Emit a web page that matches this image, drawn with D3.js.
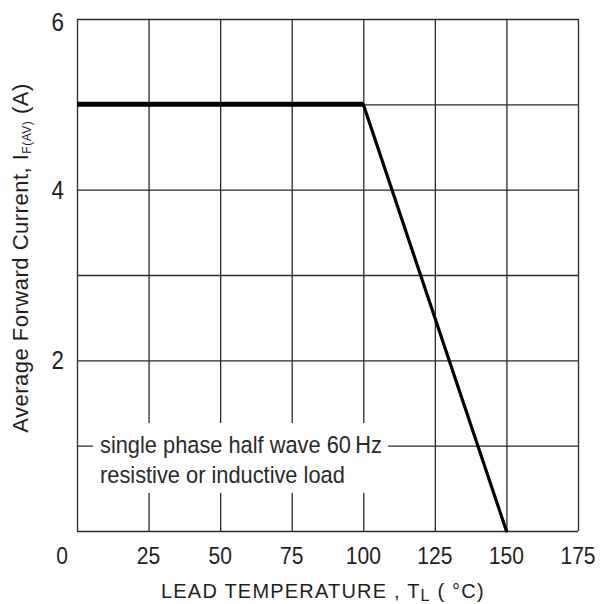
<!DOCTYPE html>
<html><head><meta charset="utf-8">
<script src="https://cdn.jsdelivr.net/npm/d3@7"></script>
<style>
body{margin:0;background:#fff;}
text{fill:#1e1e1e;}
</style></head>
<body><svg id="c" width="601" height="604"></svg>
<script>
const xTicks = [0, 25, 50, 75, 100, 125, 150, 175];
const yGrid = [0, 1, 2, 3, 4, 5, 6];
const yTickLabels = [2, 4, 6];
const temperature = [0, 100, 150];
const current = [5, 5, 0];
const noteLines = ["single phase half wave 60\u2009Hz", "resistive or inductive load"];

const svg = d3.select("#c");
const sans = "'Liberation Sans',Arial,sans-serif";
const x = d3.scaleLinear().domain([0, 175]).range([77, 578]);
const y = d3.scaleLinear().domain([0, 6]).range([531, 19]);

// grid
const gv = d3.axisBottom(x).tickValues(xTicks).tickSize(-(y(0) - y(6))).tickFormat("");
const gh = d3.axisLeft(y).tickValues(yGrid).tickSize(-(x(175) - x(0))).tickFormat("");
const g1 = svg.append("g").attr("transform", `translate(0,${y(0)})`).call(gv);
const g2 = svg.append("g").attr("transform", `translate(${x(0)},0)`).call(gh);
[g1, g2].forEach(g => {
  g.select(".domain").remove();
  g.selectAll("line").attr("stroke", "#2a2a2a").attr("stroke-width", 1.3);
});

// note background
svg.append("rect").attr("x", 93).attr("y", 423).attr("width", 295).attr("height", 70).attr("fill", "#fff");
svg.selectAll("text.note").data(noteLines).enter().append("text")
  .attr("transform", (d, i) => `translate(100,${453 + i * 30}) scale(0.89,1)`)
  .style("font-family", sans).style("font-size", "24.5px").style("fill", "#2a2a2a")
  .text(d => d);

// data
const pts = temperature.map((t, i) => [x(t), y(current[i])]);
svg.append("line").attr("x1", pts[0][0]).attr("y1", pts[0][1]).attr("x2", pts[1][0]).attr("y2", pts[1][1])
  .attr("stroke", "#000").attr("stroke-width", 5);
svg.append("line").attr("x1", pts[1][0]).attr("y1", pts[1][1]).attr("x2", pts[2][0]).attr("y2", pts[2][1])
  .attr("stroke", "#000").attr("stroke-width", 3.2).attr("stroke-linecap", "round");

// tick labels
svg.selectAll("text.xt").data(xTicks).enter().append("text")
  .attr("transform", d => `translate(${d === 0 ? 62 : x(d)},564) scale(0.86,1)`).attr("text-anchor", "middle")
  .style("font-family", sans).style("font-size", "24.5px").text(d => d);
svg.selectAll("text.yt").data(yTickLabels).enter().append("text")
  .attr("transform", d => `translate(64,${d === 6 ? 31 : y(d) + 9}) scale(0.86,1)`).attr("text-anchor", "end")
  .style("font-family", sans).style("font-size", "26px").text(d => d);

// axis titles
const xt = svg.append("text").attr("x", 161).attr("y", 598).attr("text-anchor", "start")
  .style("font-family", sans).style("font-size", "20px").style("letter-spacing", "1.2px");
xt.append("tspan").text("LEAD TEMPERATURE , T");
xt.append("tspan").attr("dy", 3).style("font-size", "16px").text("L");
xt.append("tspan").attr("dy", -3).text(" ( \u00B0C)");

const yt = svg.append("text").attr("transform", "translate(28,258) rotate(-90)").attr("text-anchor", "middle")
  .style("font-family", sans).style("font-size", "22px").style("letter-spacing", "0.5px");
yt.append("tspan").text("Average Forward Current, I");
yt.append("tspan").attr("dy", 3).style("font-size", "12px").text("F(AV)");
yt.append("tspan").attr("dy", -3).text(" (A)");
</script></body></html>
